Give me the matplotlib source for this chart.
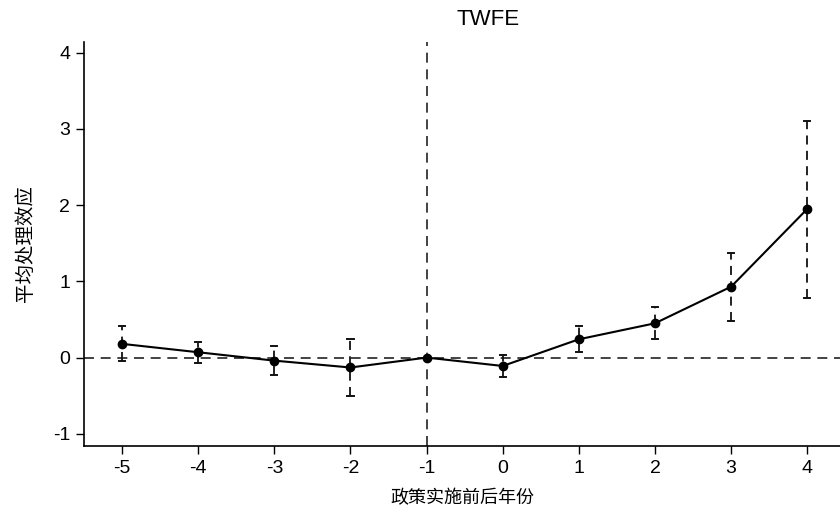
import matplotlib
matplotlib.use("Agg")
import matplotlib.pyplot as plt
import numpy as np

years = [-5, -4, -3, -2, -1, 0, 1, 2, 3, 4]
coef = [0.18, 0.07, -0.04, -0.13, 0.0, -0.11, 0.24, 0.45, 0.93, 1.95]
ci_hi = [0.41, 0.21, 0.15, 0.25, 0.0, 0.03, 0.41, 0.66, 1.37, 3.11]
ci_lo = [-0.05, -0.07, -0.23, -0.51, 0.0, -0.26, 0.07, 0.24, 0.48, 0.78]
yticks = [-1, 0, 1, 2, 3, 4]

plt.rcParams['font.family'] = ['Liberation Sans', 'Noto Sans CJK SC', 'DejaVu Sans']

fig = plt.figure(figsize=(8.4, 5.17), dpi=100)
ax = fig.add_axes([0.1, 0.1373, 0.9, 0.7815])

ax.axhline(0, color='#222222', lw=1.2, ls=(0, (6, 4)), zorder=1)
ax.axvline(-1, color='#222222', lw=1.2, ls=(0, (6, 4)), zorder=1)

for x, lo, hi in zip(years, ci_lo, ci_hi):
    if hi - lo <= 0:
        continue
    ax.plot([x, x], [lo, hi], color='#111111', lw=1.3, ls=(0, (5, 3.5)), zorder=2)
    ax.plot([x - 0.04, x + 0.04], [hi, hi], color='#111111', lw=1.4, zorder=2)
    ax.plot([x - 0.04, x + 0.04], [lo, lo], color='#111111', lw=1.4, zorder=2)

ax.plot(years, coef, color='black', lw=1.5, marker='o', ms=6, zorder=3)

ax.set_xlim(-5.5, 4.43)
ax.set_ylim(-1.16, 4.14)
ax.set_xticks(years)
ax.set_xticklabels([str(v) for v in years])
ax.set_yticks(yticks)
ax.set_yticklabels([str(v) for v in yticks])
ax.tick_params(direction='out', length=6, width=1, labelsize=14, colors='black', pad=4)
for s in ['top', 'right']:
    ax.spines[s].set_visible(False)
for s in ['left', 'bottom']:
    ax.spines[s].set_linewidth(1.2)

ax.set_ylabel('平均处理效应', family=['Noto Sans CJK SC'], fontsize=14, labelpad=12)
ax.set_xlabel('政策实施前后年份', family=['Noto Sans CJK SC'], fontsize=13, labelpad=9)
fig.text(0.581, 0.962, 'TWFE', ha='center', va='center', fontsize=16)

fig.savefig('out.png', dpi=100)
